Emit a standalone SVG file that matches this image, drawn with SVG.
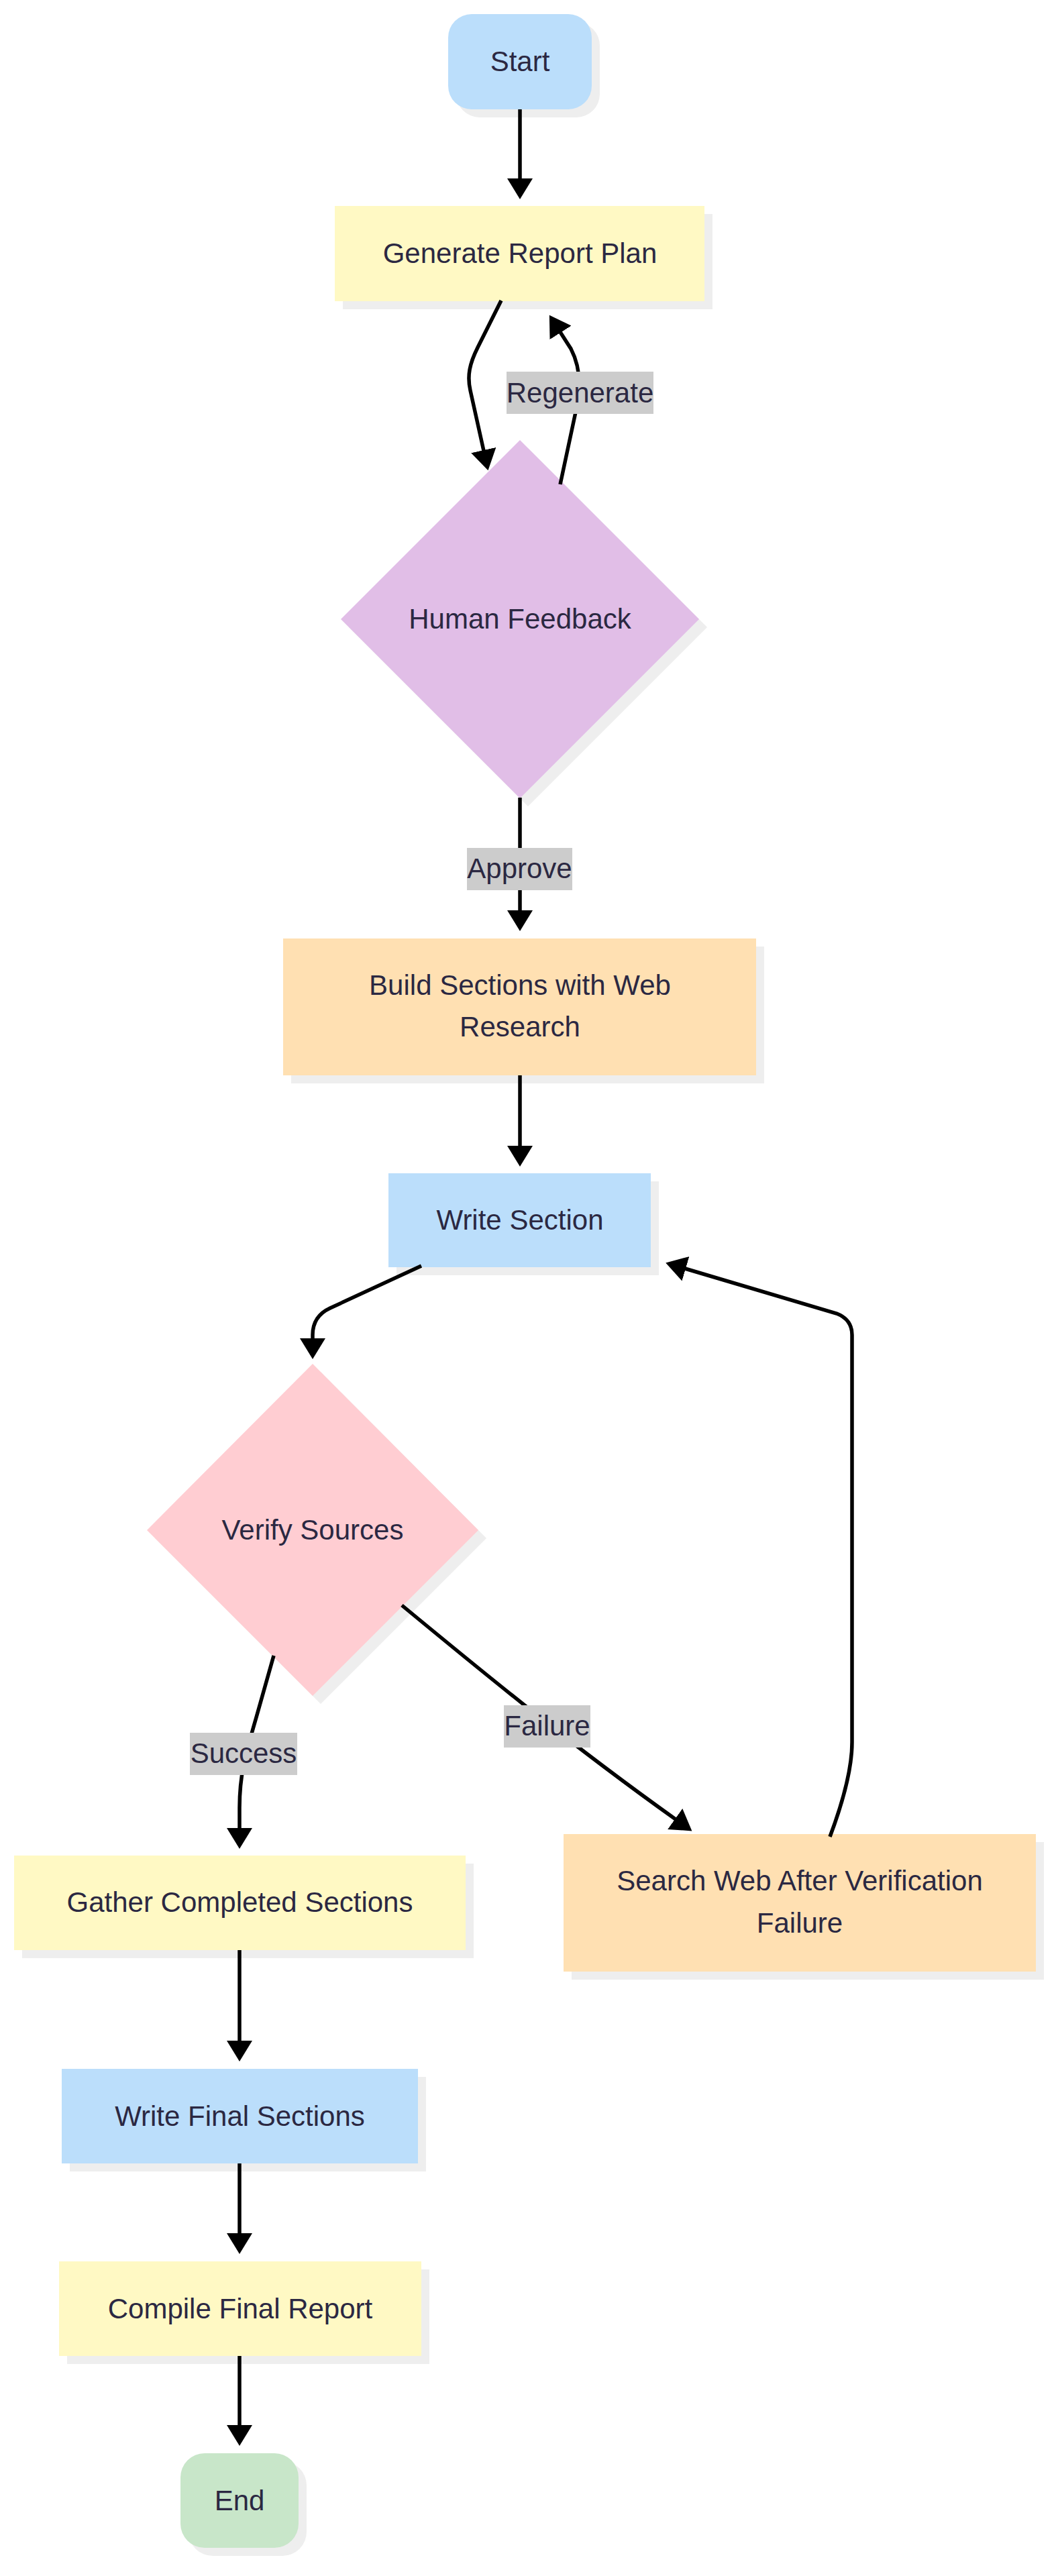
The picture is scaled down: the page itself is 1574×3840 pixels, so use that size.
<svg xmlns="http://www.w3.org/2000/svg" width="1574" height="3840" viewBox="0 0 1574 3840">
<defs>
<style>
.bg{fill:#ffffff}
.sh{fill:#eeeeee}
.t{font-family:"Liberation Sans",Arial,sans-serif;font-size:42px;fill:#2b2842;text-anchor:middle}
.blue{fill:#bbdefb}
.yellow{fill:#fff9c4}
.purple{fill:#e1bee7}
.orange{fill:#ffe0b2}
.pink{fill:#ffcdd2}
.green{fill:#c8e6c9}
.edge{fill:none;stroke:#000000;stroke-width:5.5;marker-end:url(#arrow)}
.lbl{fill:#cccccc}
</style>
<marker id="arrow" markerUnits="userSpaceOnUse" markerWidth="32" markerHeight="38" viewBox="0 0 32 38" refX="1" refY="19" orient="auto">
<path d="M0,0 L31,19 L0,38 Z" fill="#000000"/>
</marker>
</defs>
<rect class="bg" x="0" y="0" width="1574" height="3840"/>

<g id="start">
<rect class="sh" x="680" y="33" width="214" height="142" rx="35"/>
<rect class="blue" x="668" y="21" width="214" height="142" rx="35"/>
<text class="t" x="775" y="106">Start</text>
</g>

<g id="generate">
<rect class="sh" x="511" y="319" width="551" height="142"/>
<rect class="yellow" x="499" y="307" width="551" height="142"/>
<text class="t" x="775" y="392">Generate Report Plan</text>
</g>

<g id="feedback">
<polygon class="sh" points="787,668 1054,935 787,1202 520,935"/>
<polygon class="purple" points="775,656 1042,923 775,1190 508,923"/>
<text class="t" x="775" y="937">Human Feedback</text>
</g>

<g id="build">
<rect class="sh" x="434" y="1411" width="705" height="204"/>
<rect class="orange" x="422" y="1399" width="705" height="204"/>
<text class="t" x="775" y="1483">Build Sections with Web</text>
<text class="t" x="775" y="1545">Research</text>
</g>

<g id="write">
<rect class="sh" x="591" y="1761" width="391" height="140"/>
<rect class="blue" x="579" y="1749" width="391" height="140"/>
<text class="t" x="775" y="1833">Write Section</text>
</g>

<g id="verify">
<polygon class="sh" points="478,2045 725,2293 478,2540 231,2293"/>
<polygon class="pink" points="466,2033 713,2281 466,2528 219,2281"/>
<text class="t" x="466" y="2295">Verify Sources</text>
</g>

<g id="search">
<rect class="sh" x="852" y="2746" width="704" height="205"/>
<rect class="orange" x="840" y="2734" width="704" height="205"/>
<text class="t" x="1192" y="2818">Search Web After Verification</text>
<text class="t" x="1192" y="2881">Failure</text>
</g>

<g id="gather">
<rect class="sh" x="33" y="2778" width="673" height="141"/>
<rect class="yellow" x="21" y="2766" width="673" height="141"/>
<text class="t" x="357.5" y="2850">Gather Completed Sections</text>
</g>

<g id="writefinal">
<rect class="sh" x="104" y="3096" width="531" height="141"/>
<rect class="blue" x="92" y="3084" width="531" height="141"/>
<text class="t" x="357.5" y="3169">Write Final Sections</text>
</g>

<g id="compile">
<rect class="sh" x="100" y="3383" width="540" height="141"/>
<rect class="yellow" x="88" y="3371" width="540" height="141"/>
<text class="t" x="358" y="3456">Compile Final Report</text>
</g>

<g id="end">
<rect class="sh" x="281" y="3669" width="176" height="141" rx="36"/>
<rect class="green" x="269" y="3657" width="176" height="141" rx="36"/>
<text class="t" x="357" y="3742">End</text>
</g>

<g id="connectors">
<path class="edge" d="M775,163 L775,267"/>
<path class="edge" d="M747,448 L712,518 C700,542 696,560 701,582 L721,672"/>
<path class="edge" d="M835,722 L860,605 C866,575 864,545 851,520 L835,495"/>
<path class="edge" d="M775,1189 L775,1358"/>
<path class="edge" d="M775,1603 L775,1709"/>
<path class="edge" d="M628,1887 L492,1950 Q466,1962 466,1990 L466,1996"/>
<path class="edge" d="M408,2468 L382,2560 C366,2615 357,2645 357,2695 L357,2726"/>
<path class="edge" d="M599,2393 C720,2493 850,2600 1007,2712"/>
<path class="edge" d="M1237,2738 C1255,2690 1270,2640 1270,2597 L1270,1990 Q1270,1967 1247,1958 L1021,1891"/>
<path class="edge" d="M357,2907 L357,3043"/>
<path class="edge" d="M357,3225 L357,3330"/>
<path class="edge" d="M357,3512 L357,3616"/>
<g id="label-regenerate">
<rect class="lbl" x="755" y="554" width="219" height="63"/>
<text class="t" x="864.5" y="600">Regenerate</text>
</g>
<g id="label-approve">
<rect class="lbl" x="696" y="1264" width="157" height="63"/>
<text class="t" x="774.5" y="1309">Approve</text>
</g>
<g id="label-success">
<rect class="lbl" x="283" y="2583" width="160" height="63"/>
<text class="t" x="363" y="2628">Success</text>
</g>
<g id="label-failure">
<rect class="lbl" x="751" y="2542" width="129" height="63"/>
<text class="t" x="815.5" y="2587">Failure</text>
</g>
</g>
</svg>
